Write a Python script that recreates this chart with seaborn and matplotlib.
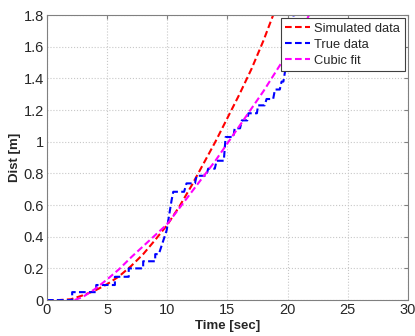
import matplotlib
matplotlib.use('Agg')
import matplotlib.pyplot as plt
import numpy as np
import seaborn as sns

# simulated data
sim_t = [0, 1, 2, 3, 4, 5, 6, 7, 8, 9, 10, 11, 12, 13, 14, 15, 16, 17, 18, 18.8]
sim_d = [0, 0, 0.005, 0.03, 0.06, 0.1, 0.15, 0.215, 0.29, 0.38, 0.475, 0.59, 0.72, 0.86, 1.0, 1.15, 1.3, 1.46, 1.64, 1.8]

# true data (staircase vertices)
true_t = [0, 2.1, 2.1, 4.1, 4.1, 5.65, 5.65, 6.8, 6.8, 8.0, 8.0, 9.0, 9.0, 9.3,
          9.95, 10.36, 10.5, 11.4, 11.6, 12.3, 12.44, 13.25, 13.4, 13.95, 14.1,
          14.7, 14.85, 15.5, 15.6, 16.05, 16.2, 16.65, 16.75, 17.45, 17.55,
          18.1, 18.25, 18.8, 18.95, 19.35, 19.5, 19.65, 19.8, 19.95, 20.5, 20.7]
true_d = [0, 0, 0.05, 0.05, 0.095, 0.095, 0.147, 0.147, 0.2, 0.2, 0.245, 0.245,
          0.29, 0.29, 0.44, 0.63, 0.684, 0.684, 0.737, 0.737, 0.785, 0.785,
          0.83, 0.83, 0.88, 0.88, 1.03, 1.03, 1.085, 1.085, 1.135, 1.135, 1.18,
          1.18, 1.23, 1.23, 1.27, 1.27, 1.33, 1.33, 1.38, 1.38, 1.45, 1.55, 1.8, 1.9]

# cubic fit
fit_t = [2.3, 3, 4, 5, 6, 7, 8, 9, 10, 11, 12, 13, 14, 15, 16, 17, 18, 19, 20, 21, 22]
fit_d = [0, 0.02, 0.07, 0.13, 0.195, 0.27, 0.34, 0.41, 0.48, 0.58, 0.68, 0.78,
         0.88, 0.99, 1.1, 1.21, 1.32, 1.44, 1.56, 1.69, 1.83]

sns.set_style('white')
plt.rcParams['font.family'] = ['Liberation Sans', 'DejaVu Sans']

fig = plt.figure(figsize=(4.15, 3.36), dpi=100)
ax = fig.add_axes([0.113, 0.107, 0.87, 0.848])

dash = (3.2, 1.6)
sns.lineplot(x=sim_t, y=sim_d, ax=ax, color='#ff0000', lw=1.5, sort=False,
             estimator=None, label='Simulated data')
sns.lineplot(x=true_t, y=true_d, ax=ax, color='#0000ff', lw=1.5, sort=False,
             estimator=None, label='True data')
sns.lineplot(x=fit_t, y=fit_d, ax=ax, color='#ff00ff', lw=1.5, sort=False,
             estimator=None, label='Cubic fit')
for ln in ax.get_lines():
    ln.set_dashes(dash)

ax.set_xlim(0, 30)
ax.set_ylim(0, 1.8)
ax.set_xticks(np.arange(0, 31, 5))
ax.set_yticks(np.arange(0, 1.81, 0.2))
ax.set_yticklabels(['0', '0.2', '0.4', '0.6', '0.8', '1', '1.2', '1.4', '1.6', '1.8'])
ax.grid(True, color='#c8c8c8', linestyle=':', linewidth=0.8)
ax.tick_params(direction='in', top=True, right=True, length=3, labelsize=10.5,
               color='#808080', pad=2)
for sp in ax.spines.values():
    sp.set_color('#808080')
    sp.set_linewidth(0.8)
ax.set_xlabel('Time [sec]', fontweight='bold', fontsize=9.5, labelpad=2.5)
ax.set_ylabel('Dist [m]', fontweight='bold', fontsize=9.5, labelpad=2)

leg = ax.legend(loc='upper right', fontsize=9.3, frameon=True, fancybox=False,
                borderaxespad=0.25, handlelength=1.9, labelspacing=0.3,
                borderpad=0.35, handletextpad=0.35)
leg.get_frame().set_edgecolor('#404040')
leg.get_frame().set_linewidth(0.8)
leg.get_frame().set_alpha(1)
for h in leg.get_lines():
    h.set_dashes(dash)

fig.savefig('out.png', dpi=100)
